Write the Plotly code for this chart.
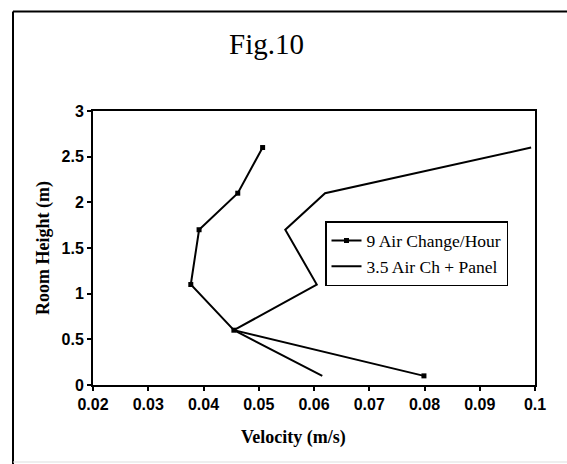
import plotly.graph_objects as go

# Data
height_9ach = [2.6, 2.1, 1.7, 1.1, 0.6, 0.1]
velocity_9ach = [0.0507, 0.0462, 0.0392, 0.0377, 0.0455, 0.0799]

height_35ach = [2.6, 2.1, 1.7, 1.1, 0.6, 0.1]
velocity_35ach = [0.0993, 0.0620, 0.0548, 0.0605, 0.0455, 0.0615]

x_ticks = [0.02, 0.03, 0.04, 0.05, 0.06, 0.07, 0.08, 0.09, 0.1]
y_ticks = [0, 0.5, 1, 1.5, 2, 2.5, 3]

serif = "Liberation Serif, Times New Roman, serif"
sans = "Liberation Sans, Arial, sans-serif"

fig = go.Figure()
fig.add_trace(go.Scatter(
    x=velocity_9ach, y=height_9ach, mode="lines+markers",
    name="9 Air Change/Hour",
    line=dict(color="black", width=2),
    marker=dict(symbol="square", size=5, color="black"),
))
fig.add_trace(go.Scatter(
    x=velocity_35ach, y=height_35ach, mode="lines",
    name="3.5 Air Ch + Panel",
    line=dict(color="black", width=2),
))

L, R, T, B = 93, 535, 111, 385
W, H = 567, 464

def px_x(p):
    return (p - L) / (R - L)

def px_y(p):
    return (B - p) / (B - T)

fig.update_layout(
    width=W, height=H,
    margin=dict(l=L, r=W - R, t=T, b=H - B),
    paper_bgcolor="white", plot_bgcolor="white",
    showlegend=True,
    legend=dict(
        x=px_x(325), y=px_y(221), xanchor="left", yanchor="top",
        bgcolor="white", bordercolor="black", borderwidth=1.5,
        font=dict(family=serif, size=17.5, color="black"),
        tracegroupgap=0, itemwidth=30,
    ),
    xaxis=dict(
        range=[0.02, 0.1], tickvals=x_ticks,
        showgrid=False, zeroline=False,
        showline=True, linecolor="black", linewidth=2, mirror=True,
        ticks="outside", ticklen=4, tickwidth=2, tickcolor="black",
        tickfont=dict(family=sans, size=16, color="black", weight="bold"),
    ),
    yaxis=dict(
        range=[0, 3], tickvals=y_ticks,
        showgrid=False, zeroline=False,
        showline=True, linecolor="black", linewidth=2, mirror=True,
        ticks="outside", ticklen=4, tickwidth=2, tickcolor="black",
        tickfont=dict(family=sans, size=16, color="black", weight="bold"),
    ),
    annotations=[
        dict(text="Fig.10", x=px_x(266), y=px_y(44), xref="paper", yref="paper",
             showarrow=False, xanchor="center", yanchor="middle",
             font=dict(family=serif, size=29, color="black")),
        dict(text="Velocity (m/s)", x=px_x(293), y=px_y(437), xref="paper", yref="paper",
             showarrow=False, xanchor="center", yanchor="middle",
             font=dict(family=serif, size=18, color="black", weight="bold")),
        dict(text="Room Height (m)", x=px_x(43), y=px_y(248), xref="paper", yref="paper",
             showarrow=False, xanchor="center", yanchor="middle", textangle=-90,
             font=dict(family=serif, size=18, color="black", weight="bold")),
    ],
    shapes=[
        dict(type="line", xref="paper", yref="paper",
             x0=px_x(13), x1=px_x(567), y0=px_y(11.5), y1=px_y(11.5),
             line=dict(color="black", width=2)),
        dict(type="line", xref="paper", yref="paper",
             x0=px_x(13), x1=px_x(13), y0=px_y(11.5), y1=px_y(464),
             line=dict(color="black", width=2)),
        dict(type="line", xref="paper", yref="paper",
             x0=px_x(13), x1=px_x(567), y0=px_y(462), y1=px_y(462),
             line=dict(color="#dddddd", width=1)),
    ],
)

fig.write_html("out.html")
